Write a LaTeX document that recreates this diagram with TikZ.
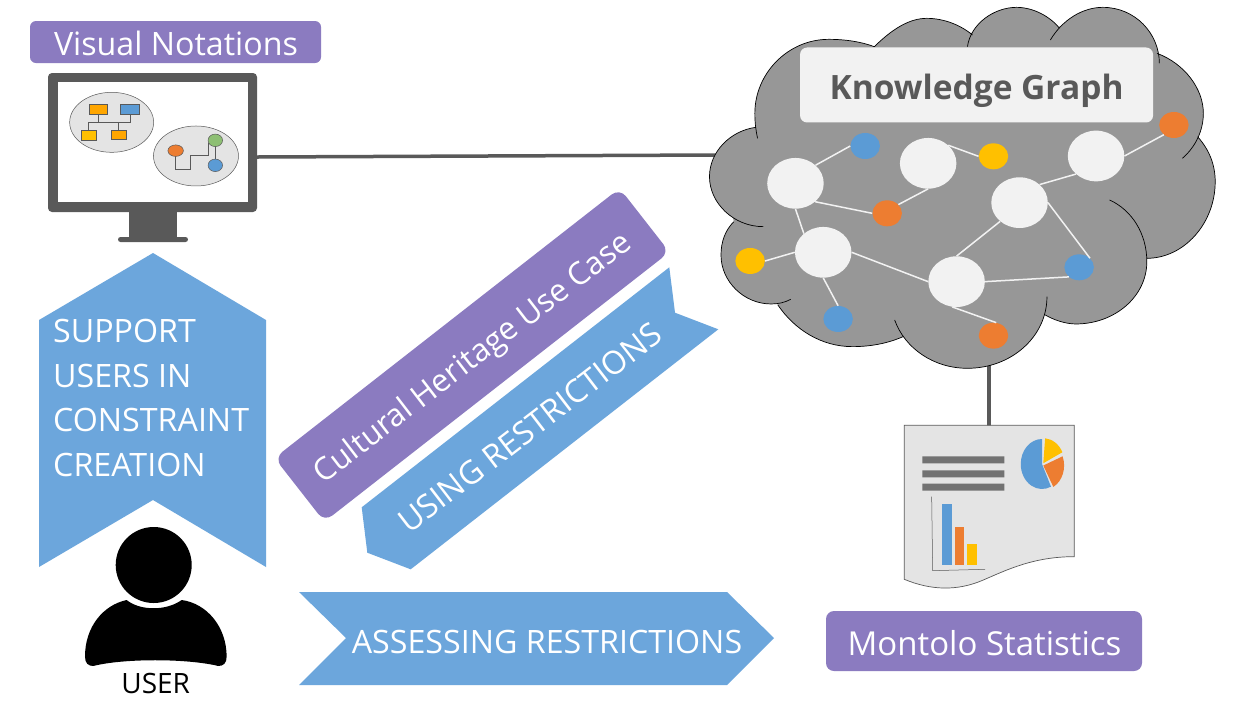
\documentclass[tikz,border=0pt]{standalone}
\usepackage{fontspec}
\setmainfont{Open Sans}
\usetikzlibrary{shapes.geometric}
\definecolor{purp}{HTML}{8B7BC0}
\definecolor{blu}{HTML}{6CA6DC}
\definecolor{dark}{HTML}{595959}
\definecolor{cloudg}{HTML}{979797}
\definecolor{pale}{HTML}{F2F2F2}
\definecolor{orng}{HTML}{ED7D31}
\definecolor{ylw}{HTML}{FFC000}
\definecolor{dotb}{HTML}{5B9BD5}
\definecolor{grn}{HTML}{8DBF73}
\definecolor{lg}{HTML}{E4E4E4}
\tikzset{
 lbl/.style={text=white,inner sep=0pt,font=\fontsize{32.2}{44.7}\selectfont},
 purpbox/.style={fill=purp,rounded corners=6pt,inner sep=0pt},
 kgnode/.style={shape=ellipse,fill=pale,inner sep=0pt,minimum width=56.5pt,minimum height=50.7pt},
 kgdot/.style={shape=ellipse,inner sep=0pt,minimum width=29.5pt,minimum height=26pt},
 kgedge/.style={draw=pale,line width=1.5pt},
 conn/.style={draw=dark,line width=3.5pt},
 mini/.style={draw=dark,line width=.5pt},
}
\newcommand{\lobes}{
 (515,140) .. controls (570,85) and (620,55) .. (670,55) .. controls (720,55) and (770,75) .. (805,105)
 (790,140) .. controls (800,70) and (870,22) .. (935,22) .. controls (985,22) and (1035,50) .. (1062,85)
 (1035,120) .. controls (1070,60) and (1130,22) .. (1190,22) .. controls (1285,22) and (1357,100) .. (1357,190)
 (1350,160) .. controls (1430,190) and (1487,265) .. (1487,340) .. controls (1487,390) and (1465,440) .. (1425,475)
 (1470,410) .. controls (1505,450) and (1522,495) .. (1522,545) .. controls (1522,670) and (1430,775) .. (1320,775)
 (1210,600) .. controls (1275,630) and (1320,700) .. (1320,785) .. controls (1320,890) and (1225,972) .. (1110,972) .. controls (1080,972) and (1045,960) .. (1020,945)
 (1025,890) .. controls (1025,1010) and (920,1105) .. (790,1105) .. controls (690,1105) and (605,1045) .. (575,960)
 (600,1010) .. controls (555,1030) and (505,1040) .. (450,1040) .. controls (360,1040) and (280,990) .. (230,915)
 (268,898) .. controls (250,908) and (230,912) .. (210,912) .. controls (130,912) and (62,845) .. (62,765) .. controls (62,725) and (75,690) .. (100,665)
 (187,680) .. controls (100,680) and (28,610) .. (28,530) .. controls (28,455) and (90,392) .. (165,382)
 (170,415) .. controls (165,390) and (162,370) .. (162,340) .. controls (162,220) and (260,118) .. (380,118) .. controls (430,118) and (475,125) .. (515,140)
}
\begin{document}
\begin{tikzpicture}[x=1pt,y=-1pt]
\useasboundingbox (0,0) rectangle (1255,705);
\fill[white] (0,0) rectangle (1255,705);

% Visual notations label
\node[purpbox,minimum width=291pt,minimum height=42pt] (vnbox) at (175.5,42) {};
\node[lbl] (vn) at (176,43) {Visual Notations};

% Monitor
\fill[dark] (129,210) rectangle (177,238);
\fill[dark,rounded corners=2.5pt] (118,237) rectangle (188,242);
\node[fill=dark,rounded corners=4pt,minimum width=209pt,minimum height=139pt,inner sep=0pt] (monitor) at (152.5,142.5) {};
\fill[white] (58,82) rectangle (248,202);
\begin{scope}[shift={(20,10)},x=.3333pt,y=-.3333pt]
 \node[shape=ellipse,fill=lg,draw=dark,line width=.5pt,minimum width=84pt,minimum height=60pt,inner sep=0pt] (g1) at (275,337) {};
 \node[shape=ellipse,fill=lg,draw=dark,line width=.5pt,minimum width=85pt,minimum height=60pt,inner sep=0pt] (g2) at (528,438) {};
 \draw[mini] (235,314)--(235,337) (205,361)--(205,337)--(330,337)--(330,314) (296,337)--(296,361);
 \draw[mini,fill=ylw!60!orange] (208,283) rectangle (263,314);
 \draw[mini,fill=dotb] (301,283) rectangle (358,314);
 \draw[mini,fill=ylw] (184,361) rectangle (229,391);
 \draw[mini,fill=ylw!60!orange] (275,361) rectangle (320,388);
 \draw[mini] (467,439)--(467,478)--(512,478)--(512,436)--(566,436)--(566,400) (586,409)--(586,448);
 \node[shape=ellipse,draw=dark,line width=.5pt,fill=orng,minimum width=15.5pt,minimum height=11.5pt,inner sep=0pt] at (467,422) {};
 \node[shape=ellipse,draw=dark,line width=.5pt,fill=grn,minimum width=14.5pt,minimum height=12.5pt,inner sep=0pt] at (586,391) {};
 \node[shape=ellipse,draw=dark,line width=.5pt,fill=dotb,minimum width=14.5pt,minimum height=12.5pt,inner sep=0pt] at (586,466) {};
\end{scope}

% Cloud
\coordinate (cloudW) at (716,155);
\coordinate (cloudS) at (989,362);
\coordinate (reportN) at (989,426);
\draw[conn] (monitor.east |- 0,157) -- (cloudW);
\draw[conn] (cloudS) -- (reportN);
\begin{scope}[shift={(700,0)},x=.3385pt,y=-.3333pt]
 \fill[cloudg] \lobes;
 \fill[cloudg] (515,140)--(670,80)--(800,100)--(935,50)--(1060,80)--(1190,50)--(1357,190)--(1450,320)--(1470,410)--(1490,600)--(1320,775)--(1200,900)--(1020,945)--(790,1080)--(600,1010)--(450,1010)--(230,915)--(160,800)--(100,665)--(70,530)--(165,382)--(260,200)--cycle;
 \draw[black,line width=.7pt] \lobes;
 \node[fill=pale,rounded corners=7pt,minimum width=353pt,minimum height=75pt,inner sep=0pt] (kgbox) at (817,255) {};
 \node[inner sep=0pt,text=dark,font=\bfseries\fontsize{33.5}{36}\selectfont] (kg) at (817,273) {Knowledge Graph};
 \node[kgnode] (n1) at (282,550) {};
 \node[kgnode] (n2) at (674,490) {};
 \node[kgnode] (n3) at (1170,468) {};
 \node[kgnode] (n4) at (944,608) {};
 \node[kgnode] (n5) at (364,757) {};
 \node[kgnode] (n6) at (758,845) {};
 \node[kgdot,fill=dotb] (b1) at (488,438) {};
 \node[kgdot,fill=ylw] (y1) at (867,469) {};
 \node[kgdot,fill=orng] (o1) at (1400,375) {};
 \node[kgdot,fill=orng] (o2) at (553,640) {};
 \node[kgdot,fill=ylw] (y2) at (148,783) {};
 \node[kgdot,fill=dotb] (b3) at (408,957) {};
 \node[kgdot,fill=dotb] (b4) at (1120,802) {};
 \node[kgdot,fill=orng] (o4) at (867,1007) {};
 \draw[kgedge] (n1.42)--(b1.180);
 \draw[kgedge] (n2.42)--(y1.180);
 \draw[kgedge] (n3.0)--(o1.224);
 \draw[kgedge] (n1.-43)--(o2.180);
 \draw[kgedge] (n2.-90)--(o2.38);
 \draw[kgedge] (n1.-90)--(n5.136);
 \draw[kgedge] (n5.180)--(y2.0);
 \draw[kgedge] (n5.-90)--(b3.90);
 \draw[kgedge] (n5.0)--(n6.180);
 \draw[kgedge] (n6.90)--(n4.224);
 \draw[kgedge] (n4.42)--(n3.222);
 \draw[kgedge] (n4.0)--(b4.40);
 \draw[kgedge] (n6.0)--(b4.223);
 \draw[kgedge] (n6.-100)--(o4.78);
\end{scope}

% Report
\begin{scope}[shift={(890,410)},x=.3333pt,y=-.3333pt]
 \draw[fill=lg,draw=dark,line width=.7pt] (43,46)--(553,46)--(553,440) .. controls (430,440) and (350,480) .. (280,510) .. controls (200,545) and (120,540) .. (43,508) --cycle;
 \fill[dark!85] (97,139) rectangle (343,160) (97,181) rectangle (343,202) (97,221) rectangle (343,242);
 \draw[dark,line width=.5pt] (125,260)--(128,482)--(285,478);
 \fill[dotb] (157,282) rectangle (186,466);
 \fill[orng] (195,352) rectangle (223,466);
 \fill[ylw] (232,401) rectangle (260,466);
\end{scope}
\begin{scope}[shift={(1042,464)},xscale=.85]
 \fill[dotb] (0,0) -- (90:25pt) arc[start angle=90,end angle=295,radius=25pt] -- cycle;
 \fill[orng] (1.5,1.5) -- ++(-61:24.5pt) arc[start angle=-61,end angle=22,radius=24.5pt] -- cycle;
 \fill[ylw] (1.5,-.8) -- ++(26:25pt) arc[start angle=26,end angle=85,radius=25pt] -- cycle;
\end{scope}

% Blue up arrow
\fill[blu] (153,253)--(266,320)--(266,567)--(153,500)--(39,567)--(39,320)--cycle;
\node[lbl,align=left,anchor=north west] (support) at (53,319) {SUPPORT\\USERS IN\\CONSTRAINT\\CREATION};

% User
\fill[black] (153.7,565) circle[radius=38pt];
\begin{scope}[shift={(30,500)},x=.3333pt,y=-.3333pt]
 \fill[black] (290,300) .. controls (330,333) and (410,333) .. (455,300) .. controls (530,310) and (590,380) .. (590,470) .. controls (590,490) and (580,498) .. (565,498) .. controls (470,475) and (280,475) .. (190,498) .. controls (175,498) and (165,490) .. (165,470) .. controls (165,380) and (220,315) .. (290,300) -- cycle;
\end{scope}
\node[inner sep=0pt,text=black,font=\fontsize{28}{30}\selectfont] (user) at (155.7,683) {USER};

% Rotated
\node[purpbox,rotate=38,rounded corners=10pt,minimum width=438pt,minimum height=81pt] (chbox) at (472,355) {};
\node[lbl,rotate=37.5,font=\fontsize{31.4}{36}\selectfont] (ch) at (473.5,359) {Cultural Heritage Use Case};
\fill[blu] (669.3,267.3)--(675,312.7)--(718.3,329.3)--(410.7,569.3)--(367.3,552.7)--(361.7,507.3)--cycle;
\node[lbl,rotate=37.5] (using) at (530,427.5) {USING RESTRICTIONS};

% Assessing
\fill[blu] (299,592)--(727,592)--(774,638)--(727,685)--(299,685)--(346,638)--cycle;
\node[lbl] (assess) at (547,642) {ASSESSING RESTRICTIONS};

% Montolo
\node[purpbox,minimum width=316pt,minimum height=60pt,rounded corners=8pt] (msbox) at (984,641) {};
\node[lbl,font=\fontsize{33}{36}\selectfont] (ms) at (984.5,643) {Montolo Statistics};
\end{tikzpicture}
\end{document}
